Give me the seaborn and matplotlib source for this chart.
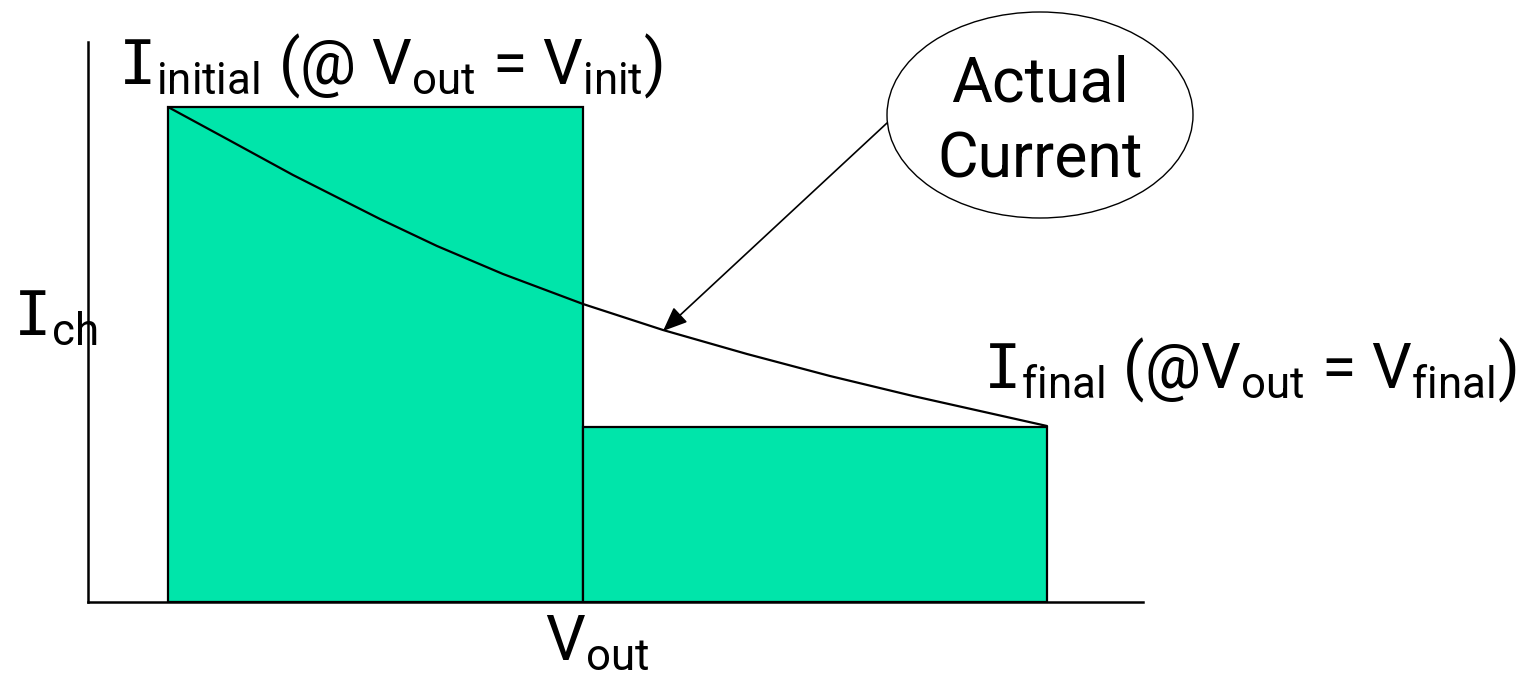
import matplotlib
matplotlib.use('Agg')
import matplotlib.pyplot as plt
from matplotlib.patches import Ellipse
import seaborn as sns

# Step approximation of the channel current (bin edges on V_out, one level per step)
v_edges = [80, 495, 959]
i_levels = [495, 175]
v_mid = [(v_edges[0] + v_edges[1]) / 2, (v_edges[1] + v_edges[2]) / 2]

# Actual current curve
curve_v = [80, 139, 205, 292, 349, 415, 495, 575, 659, 742, 825, 959]
curve_i = [495, 463, 427, 383, 356, 328, 298, 272, 248, 226, 206, 176]

sns.set_style("white")
plt.rcParams['font.family'] = ['Roboto', 'DejaVu Sans']
plt.rcParams['text.color'] = 'black'
plt.rcParams['mathtext.fontset'] = 'custom'
plt.rcParams['mathtext.rm'] = 'Roboto'
plt.rcParams['mathtext.tt'] = 'DejaVu Sans Mono'

fig = plt.figure(figsize=(15.25, 6.77), dpi=100)
ax = fig.add_axes([88 / 1525, 75 / 677, 1055 / 1525, 560 / 677])

# the two green steps
sns.histplot(x=v_mid, weights=i_levels, bins=v_edges, color='#00E5AA',
             edgecolor='black', linewidth=1.6, alpha=1, ax=ax)

# actual current
sns.lineplot(x=curve_v, y=curve_i, color='black', linewidth=1.6, ax=ax)

ax.set_xlim(0, 1055)
ax.set_ylim(0, 560)
ax.set_xticks([])
ax.set_yticks([])
ax.set_xlabel('')
ax.set_ylabel('')
sns.despine(ax=ax)
for s in ['left', 'bottom']:
    ax.spines[s].set_linewidth(1.8)
    ax.spines[s].set_color('black')

fs = 45
ax.text(30, 519, r'$\mathtt{I}_{\mathrm{initial}}$ (@ $\mathrm{V}_{\mathrm{out}}$ = $\mathrm{V}_{\mathrm{init}}$)',
        fontsize=fs, va='baseline', ha='left', color='black', clip_on=False)
ax.text(895, 214, r'$\mathtt{I}_{\mathrm{final}}$ (@$\mathrm{V}_{\mathrm{out}}$ = $\mathrm{V}_{\mathrm{final}}$)',
        fontsize=fs, va='baseline', ha='left', color='black', clip_on=False)
ax.text(-75, 267, r'$\mathtt{I}_{\mathrm{ch}}$', fontsize=fs, va='baseline', ha='left',
        color='black', clip_on=False)
ax.text(457, -58, r'$\mathrm{V}_{\mathrm{out}}$', fontsize=fs, va='baseline', ha='left',
        color='black', clip_on=False)

# callout bubble
ax.add_patch(Ellipse((952, 487), 306, 206, facecolor='white', edgecolor='black',
                     linewidth=1.0, clip_on=False))
ax.text(952, 500, 'Actual', fontsize=fs, ha='center', va='baseline', color='black', clip_on=False)
ax.text(952, 424, 'Current', fontsize=fs, ha='center', va='baseline', color='black', clip_on=False)
ax.annotate('', xy=(575, 271), xytext=(799, 479),
            arrowprops=dict(arrowstyle='-|>,head_length=0.6,head_width=0.25',
                            color='black', lw=1.2, mutation_scale=25,
                            shrinkA=0, shrinkB=0))

plt.savefig('out.png', dpi=100)
